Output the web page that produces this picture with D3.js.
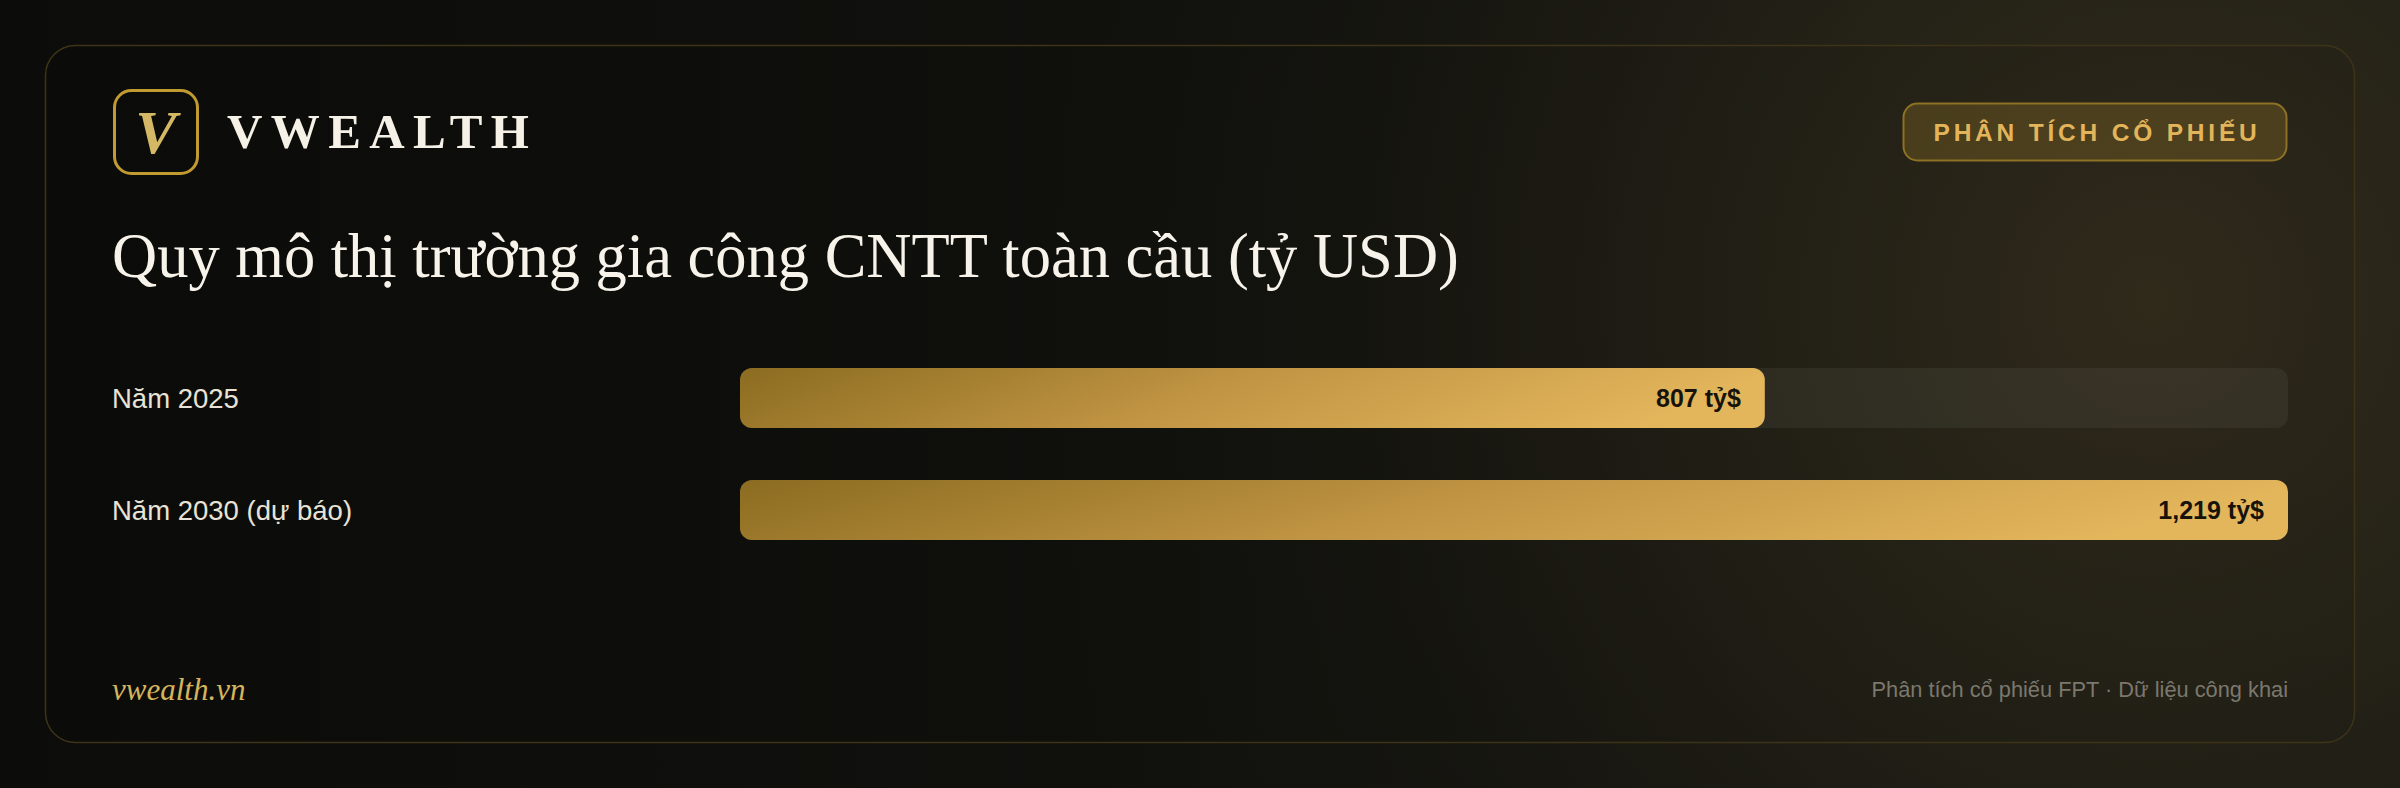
<!DOCTYPE html>
<html>
<head>
<meta charset="utf-8">
<script src="https://cdn.jsdelivr.net/npm/d3@7"></script>
<style>
  html, body { margin: 0; padding: 0; background: #0d0e0b; }
  svg { display: block; }
</style>
</head>
<body>
<svg id="chart" width="2400" height="788"></svg>
<script>
// ---- Data ----
const categories = ["Năm 2025", "Năm 2030 (dự báo)"];
const values = [807, 1219];
const unit = " tỷ$";
const brandName = "VWEALTH";
const titleText = "Quy mô thị trường gia công CNTT toàn cầu (tỷ USD)";
const badgeText = "PHÂN TÍCH CỔ PHIẾU";
const footerLeft = "vwealth.vn";
const footerRight = "Phân tích cổ phiếu FPT · Dữ liệu công khai";

const W = 2400, H = 788;
const svg = d3.select("#chart");
const defs = svg.append("defs");

// Background gradients
const bgLin = defs.append("linearGradient").attr("id", "bgLin")
  .attr("x1", "0").attr("y1", "0").attr("x2", "1").attr("y2", "0");
bgLin.append("stop").attr("offset", "0%").attr("stop-color", "#0c0d0a");
bgLin.append("stop").attr("offset", "45%").attr("stop-color", "#10110d");
bgLin.append("stop").attr("offset", "100%").attr("stop-color", "#1b1a14");

const bgRad = defs.append("radialGradient").attr("id", "bgRad")
  .attr("gradientUnits", "userSpaceOnUse")
  .attr("cx", 2150).attr("cy", 300).attr("r", 1150);
bgRad.append("stop").attr("offset", "0%").attr("stop-color", "#332d1c").attr("stop-opacity", 0.95);
bgRad.append("stop").attr("offset", "35%").attr("stop-color", "#2a2619").attr("stop-opacity", 0.7);
bgRad.append("stop").attr("offset", "70%").attr("stop-color", "#1c1a13").attr("stop-opacity", 0.3);
bgRad.append("stop").attr("offset", "100%").attr("stop-color", "#141410").attr("stop-opacity", 0);

// Bar gradient
const barGrad = defs.append("linearGradient").attr("id", "barGrad")
  .attr("x1", "0").attr("y1", "0").attr("x2", "1").attr("y2", "0.15");
barGrad.append("stop").attr("offset", "0%").attr("stop-color", "#8b6c20");
barGrad.append("stop").attr("offset", "50%").attr("stop-color", "#c09443");
barGrad.append("stop").attr("offset", "100%").attr("stop-color", "#e3b65c");

svg.append("rect").attr("width", W).attr("height", H).attr("fill", "url(#bgLin)");
svg.append("rect").attr("width", W).attr("height", H).attr("fill", "url(#bgRad)");

// Card
svg.append("rect")
  .attr("x", 45.5).attr("y", 45.5).attr("width", 2309).attr("height", 697)
  .attr("rx", 30).attr("ry", 30)
  .attr("fill", "rgba(0,0,0,0.03)")
  .attr("stroke", "#3d3418").attr("stroke-width", 1.5);

// Logo
svg.append("rect")
  .attr("x", 114.5).attr("y", 90.5).attr("width", 83).attr("height", 83)
  .attr("rx", 17).attr("fill", "none")
  .attr("stroke", "#c19a30").attr("stroke-width", 3);
svg.append("text")
  .attr("x", 156).attr("y", 153)
  .attr("text-anchor", "middle")
  .attr("font-family", "'Liberation Serif', 'Times New Roman', serif")
  .attr("font-style", "italic").attr("font-weight", 700)
  .attr("font-size", 62)
  .attr("fill", "#d4b866")
  .text("V");

svg.append("text")
  .attr("x", 227).attr("y", 148)
  .attr("font-family", "'Liberation Serif', 'Times New Roman', serif")
  .attr("font-weight", 700)
  .attr("font-size", 49)
  .attr("letter-spacing", 8.4)
  .attr("fill", "#f6f1e6")
  .text(brandName);

// Badge
const badge = svg.append("g");
badge.append("rect")
  .attr("x", 1903.5).attr("y", 103.5).attr("width", 383).attr("height", 57)
  .attr("rx", 14)
  .attr("fill", "rgba(201,160,50,0.22)")
  .attr("stroke", "#8d7125").attr("stroke-width", 2);
badge.append("text")
  .attr("x", 2095 + 2).attr("y", 141)
  .attr("text-anchor", "middle")
  .attr("font-family", "'Liberation Sans', Arial, sans-serif")
  .attr("font-weight", 700)
  .attr("font-size", 24.5)
  .attr("letter-spacing", 3.8)
  .attr("fill", "#e3b55a")
  .text(badgeText);

// Title
svg.append("text")
  .attr("x", 112).attr("y", 277)
  .attr("font-family", "'Liberation Serif', 'Times New Roman', serif")
  .attr("font-size", 62.5)
  .attr("fill", "#f7f3ea")
  .text(titleText);

// Scales
const x = d3.scaleLinear().domain([0, d3.max(values)]).range([740, 2288]);
const y = d3.scaleBand().domain(categories).range([368, 540]).paddingInner(52 / 112).paddingOuter(0);

const rows = svg.append("g").selectAll("g").data(categories).join("g");

// Track
rows.append("rect")
  .attr("x", x(0)).attr("y", d => y(d))
  .attr("width", x.range()[1] - x(0)).attr("height", y.bandwidth())
  .attr("rx", 12)
  .attr("fill", "rgba(255,255,255,0.055)");

// Bars
rows.append("rect")
  .attr("x", x(0)).attr("y", d => y(d))
  .attr("width", (d, i) => x(values[i]) - x(0)).attr("height", y.bandwidth())
  .attr("rx", 12)
  .attr("fill", "url(#barGrad)");

// Category labels
rows.append("text")
  .attr("x", 112).attr("y", d => y(d) + y.bandwidth() / 2 + 10)
  .attr("font-family", "'Liberation Sans', Arial, sans-serif")
  .attr("font-size", 27.5)
  .attr("fill", "#e8e3d6")
  .text(d => d);

// Value labels
rows.append("text")
  .attr("x", (d, i) => x(values[i]) - 24)
  .attr("y", d => y(d) + y.bandwidth() / 2 + 9)
  .attr("text-anchor", "end")
  .attr("font-family", "'Liberation Sans', Arial, sans-serif")
  .attr("font-weight", 700)
  .attr("font-size", 25)
  .attr("fill", "#17130a")
  .text((d, i) => d3.format(",")(values[i]) + unit);

// Footer
svg.append("text")
  .attr("x", 112).attr("y", 700)
  .attr("font-family", "'Liberation Serif', 'Times New Roman', serif")
  .attr("font-style", "italic")
  .attr("font-size", 31)
  .attr("fill", "#d5b45e")
  .text(footerLeft);

svg.append("text")
  .attr("x", 2288).attr("y", 697)
  .attr("text-anchor", "end")
  .attr("font-family", "'Liberation Sans', Arial, sans-serif")
  .attr("font-size", 21.8)
  .attr("fill", "#7b786e")
  .text(footerRight);
</script>
</body>
</html>
